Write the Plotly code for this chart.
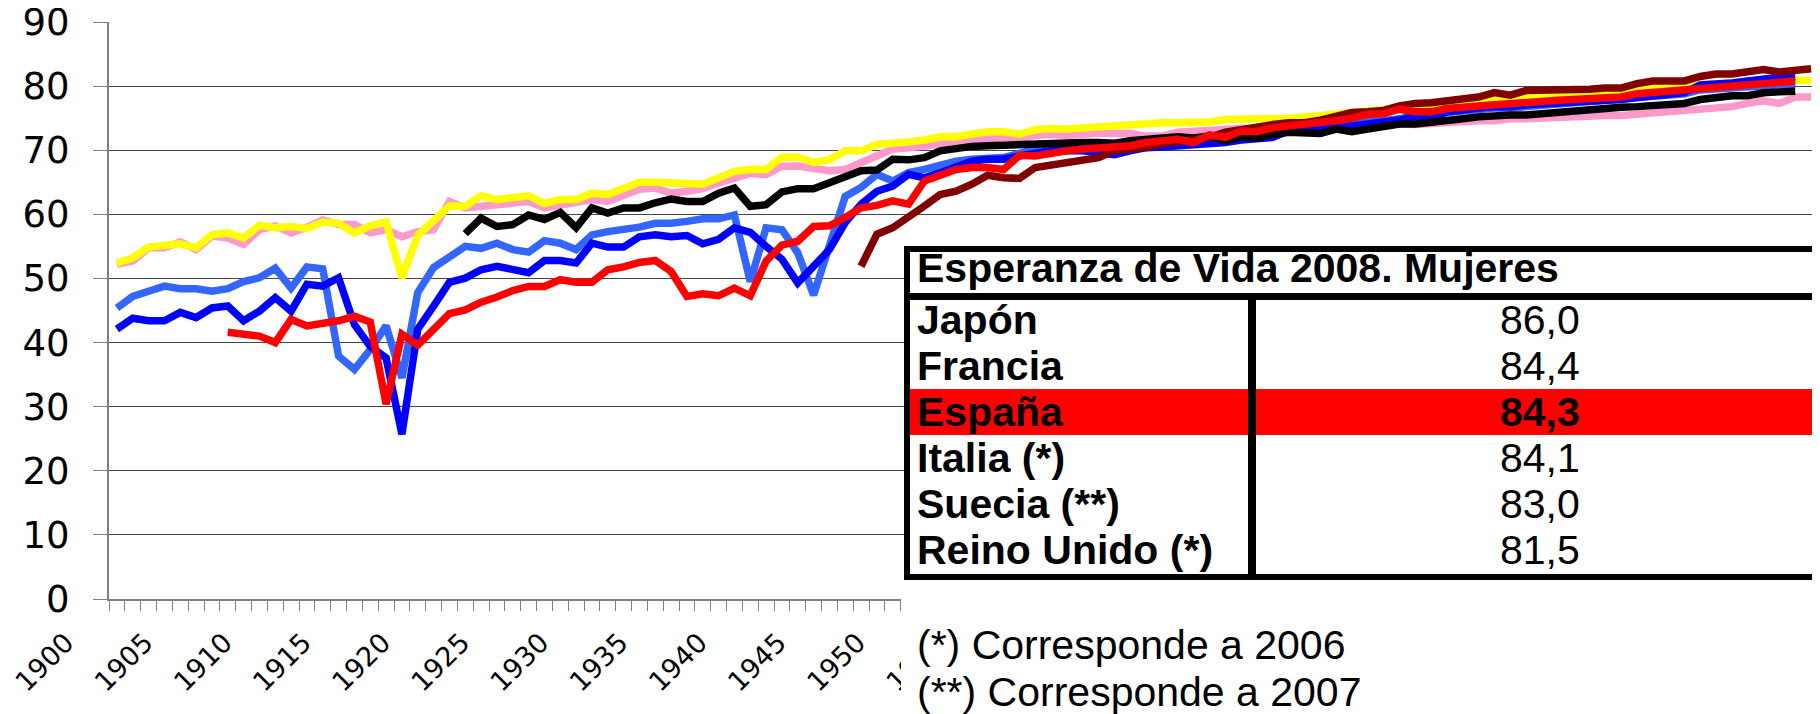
import plotly.graph_objects as go

# ---------------- data ----------------
years = list(range(1900, 2008))
tick_years = list(range(1900, 1960, 5))

# yellow series (1900-2007)
suecia_start = 1900
suecia = [52.4, 53.2, 54.9, 55.2, 55.4, 54.8, 56.8, 57.1, 56.3, 58.3, 57.9, 58.1, 57.8, 58.8, 58.6, 57.1, 58.2, 58.8, 50.1, 56.7, 58.9, 61.3,
          61.25, 62.9, 62.3, 62.6, 62.9, 61.7, 62.3, 62.3, 63.3, 63.1, 64.0, 65.0, 65.0, 65.0, 64.8, 64.7, 65.7, 66.7, 67.0, 67.0, 68.9,
          68.9, 68.1, 68.5, 69.9, 69.9, 70.9, 71.0, 71.3, 71.6, 72.1, 72.1, 72.5, 72.9, 72.9, 72.5, 73.2, 73.4, 73.3, 73.5, 73.6, 73.8,
          73.9, 74.2, 74.3, 74.3, 74.3, 74.4, 74.8, 74.8, 74.8, 74.9, 75.0, 75.2, 75.3, 75.6, 75.9, 76.1, 76.2, 76.6, 77.2, 76.9, 77.2,
          77.4, 77.7, 77.7, 77.9, 78.2, 78.2, 78.5, 78.6, 78.8, 79.0, 79.1, 79.6, 79.6, 79.7, 79.8, 80.2, 80.4, 80.5, 80.8, 80.9, 81.0, 80.9, 80.9]

# pink series (1900-2007)
noruega_start = 1900
noruega = [52.2, 52.7, 54.8, 54.8, 55.7, 54.5, 56.6, 56.3, 55.3, 57.6, 58.2, 57.1, 58.0, 59.1, 58.4, 58.4, 57.1, 57.6, 56.5, 57.3, 57.6, 62.0,
           61.0, 61.25, 61.4, 61.8, 62.0, 61.0, 61.5, 61.8, 62.3, 62.0, 63.1, 63.9, 64.1, 63.3, 63.6, 64.0, 64.9, 65.8, 66.4, 66.2, 67.5,
           67.55, 67.3, 66.8, 67.0, 68.1, 69.4, 70.2, 70.4, 70.7, 70.9, 71.2, 71.5, 71.8, 72.0, 71.7, 72.3, 72.5, 72.3, 72.5, 72.7, 72.6,
           72.6, 72.2, 72.2, 72.8, 73.0, 73.0, 73.4, 73.4, 73.3, 73.5, 73.6, 73.6, 73.7, 73.7, 73.8, 73.8, 74.0, 74.1, 74.0, 74.2, 74.4,
           74.5, 74.6, 74.6, 74.9, 74.9, 75.0, 75.2, 75.4, 75.4, 75.4, 75.4, 75.6, 75.9, 76.2, 76.3, 76.6, 76.8, 76.8, 77.3, 77.7, 77.3, 78.3, 78.3]

# light blue series (1900-2006)
francia_start = 1900
francia = [45.4, 47.2, 48.0, 48.8, 48.4, 48.4, 48.0, 48.4, 49.5, 50.1, 51.6, 48.5, 51.8, 51.5, 37.9, 35.8, 38.9, 42.6, 34.5, 47.8, 51.7, 53.2,
           55.0, 54.7, 55.5, 54.5, 54.1, 55.9, 55.5, 54.5, 56.8, 57.3, 57.6, 58.0, 58.6, 58.6, 58.9, 59.3, 59.3, 59.9, 49.5, 57.9, 57.6,
           54.0, 47.4, 54.8, 62.8, 64.2, 66.25, 65.2, 66.5, 67.0, 67.7, 68.3, 68.6, 68.7, 68.85, 69.5, 70.2, 70.3, 70.4, 70.4, 70.2, 70.3,
           70.3, 70.6, 70.7, 70.9, 71.0, 71.1, 71.4, 71.8, 71.9, 72.2, 73.1, 73.3, 73.5, 73.8, 74.2, 74.6, 74.6, 74.9, 75.5, 75.3, 75.9,
           76.2, 76.4, 76.6, 76.6, 76.9, 77.0, 77.2, 77.4, 77.5, 77.6, 77.8, 78.0, 78.3, 78.5, 78.8, 79.4, 79.6, 79.8, 80.0, 80.1, 80.2, 80.3]

# dark blue series (1900-2006)
italia_start = 1900
italia = [42.1, 43.8, 43.4, 43.4, 44.7, 43.9, 45.4, 45.7, 43.4, 44.9, 47.0, 44.9, 49.1, 48.8, 50.1, 42.8, 39.4, 37.6, 25.7, 42.1, 45.7, 49.4,
          50.05, 51.35, 51.9, 51.5, 50.9, 52.8, 52.8, 52.4, 55.5, 54.9, 54.9, 56.5, 56.8, 56.5, 56.7, 55.4, 56.1, 57.9, 57.2, 55.0, 53.0,
          49.3, 51.9, 54.5, 58.7, 61.6, 63.6, 64.4, 66.25, 65.7, 66.5, 67.3, 68.3, 68.6, 68.6, 69.1, 69.6, 69.9, 69.9, 69.9, 69.6, 69.3,
          69.9, 70.4, 70.5, 70.7, 70.85, 70.85, 71.2, 71.6, 71.7, 72.0, 73.0, 73.1, 73.3, 73.5, 73.8, 74.1, 74.3, 74.7, 75.3, 74.8, 76.0,
          76.4, 76.6, 76.8, 76.8, 77.1, 77.2, 77.4, 77.6, 77.7, 77.8, 77.9, 78.2, 78.5, 78.7, 79.0, 80.2, 80.3, 80.5, 80.8, 81.2, 81.4, 81.5]

# black series (1922-2006)
reino_unido_start = 1922
reino_unido = [57.0, 59.4, 58.1, 58.4, 59.9, 59.2, 60.3, 57.9, 61.0, 60.2, 61.0, 61.0, 61.8, 62.4, 62.0, 62.0, 63.3, 64.1, 61.25, 61.5, 63.5,
               64.0, 64.0, 64.95, 65.9, 66.8, 66.9, 68.6, 68.5, 68.85, 69.9, 70.3, 70.6, 70.7, 70.8, 70.9, 71.1, 71.2, 71.2, 71.2, 71.2, 71.1,
               71.5, 71.7, 71.7, 72.1, 71.9, 72.2, 71.5, 72.1, 71.9, 72.5, 72.8, 72.6, 72.6, 73.3, 72.9, 73.3, 73.6, 74.1, 74.1, 74.3, 74.7,
               74.9, 75.2, 75.4, 75.5, 75.5, 75.7, 76.05, 76.3, 76.4, 76.6, 76.7, 76.8, 76.9, 77.2, 77.3, 77.9, 78.3, 78.5, 78.5, 78.97, 79.1, 79.2]

# dark red series (1947-2007)
japon_start = 1947
japon = [51.9, 56.9, 57.9, 59.5, 61.3, 63.1, 63.6, 64.7, 66.1, 65.7, 65.6, 67.3, 67.7, 68.2, 68.6, 68.85, 69.9,
         70.2, 70.4, 71.0, 71.4, 71.7, 72.0, 72.8, 73.3, 73.5, 74.0, 74.3, 74.3, 74.7, 75.3, 75.9, 76.0, 76.2, 76.9, 77.3, 77.4, 77.7,
         77.9, 78.3, 79.0, 78.6, 79.3, 79.3, 79.5, 79.5, 79.5, 79.7, 79.7, 80.4, 80.8, 80.8, 80.8, 81.5, 81.9, 81.9, 82.2, 82.6, 82.2, 82.4, 82.7]

# red series (1907-2006)
espana_start = 1907
espana = [41.6, 41.3, 41.0, 40.0, 43.6, 42.6, 43.0, 43.4, 44.1, 43.2, 30.4, 41.3, 39.6, 42.1, 44.5,
          45.1, 46.3, 47.1, 48.1, 48.75, 48.75, 49.8, 49.4, 49.4, 51.35, 51.8, 52.5, 52.8, 51.1, 47.2, 47.6, 47.3, 48.5, 47.3, 52.7, 55.2,
          55.8, 58.1, 58.2, 59.5, 61.0, 61.4, 62.1, 61.6, 65.2, 66.1, 67.0, 67.3, 67.3, 67.0, 69.2, 69.1, 69.6, 69.9, 70.2, 70.4, 70.7,
          70.7, 71.2, 71.5, 71.7, 71.2, 72.4, 72.0, 73.0, 72.9, 73.5, 73.8, 74.0, 74.3, 74.6, 75.0, 75.6, 75.7, 76.4, 76.0, 76.0, 76.5,
          76.8, 76.9, 77.1, 77.2, 77.4, 77.6, 77.8, 77.9, 78.2, 78.2, 78.3, 78.8, 79.0, 79.3, 79.6, 79.7, 79.8, 80.0, 80.2, 80.4, 80.8, 80.8]

# table
tabla_titulo = "Esperanza de Vida 2008. Mujeres"
tabla_paises = ["Japón", "Francia", "España", "Italia (*)", "Suecia (**)", "Reino Unido (*)"]
tabla_valores = [86.0, 84.4, 84.3, 84.1, 83.0, 81.5]
notas = ["(*) Corresponde a 2006", "(**) Corresponde a 2007"]

# ---------------- figure ----------------
OFF = 8                       # default page margin in front of the figure div
W, H = 1820 - OFF, 714 - OFF
ML, MR, MT, MB = 109 - OFF, 1, 22 - OFF, 115
PW, PH = W - ML - MR, H - MT - MB


def X(px):
    """page pixel x -> paper coordinate"""
    return (px - OFF - ML) / PW


def Y(py):
    """page pixel y -> paper coordinate"""
    return (H - MB - (py - OFF)) / PH


series = [
    ("Noruega", noruega_start, noruega, "#FF99CC"),
    ("Suecia", suecia_start, suecia, "#FFFF00"),
    ("Francia", francia_start, francia, "#3366FF"),
    ("Italia", italia_start, italia, "#0000FF"),
    ("Reino Unido", reino_unido_start, reino_unido, "#000000"),
    ("Japón", japon_start, japon, "#800000"),
    ("España", espana_start, espana, "#FF0000"),
]

fig = go.Figure()
for name, start, vals, color in series:
    xs = [start - 1900 + i for i in range(len(vals))]
    fig.add_trace(go.Scatter(x=xs, y=vals, mode="lines", name=name,
                             line=dict(color=color, width=7.5),
                             hoverinfo="skip"))

FONT = "DejaVu Sans"
TFONT = "Liberation Sans"

fig.update_layout(
    width=W, height=H,
    margin=dict(l=ML, r=MR, t=MT, b=MB, pad=0, autoexpand=False),
    paper_bgcolor="white", plot_bgcolor="white",
    showlegend=False,
    font=dict(family=FONT, color="black"),
    xaxis=dict(
        automargin=False,
        range=[-0.5, len(years) - 0.5],
        tickmode="array",
        tickvals=[y - 1900 for y in tick_years],
        ticktext=[str(y) for y in tick_years],
        ticks="",
        tickangle=-45,
        tickfont=dict(family=FONT, size=27, color="black"),
        ticklabelshift=-51,
        ticklabelstandoff=15,
        ticklabeloverflow="allow",
        showgrid=False,
        zeroline=False,
        showline=True, linecolor="#808080", linewidth=2,
        minor=dict(tickmode="array", tickvals=[k - 0.5 for k in range(len(years) + 1)],
                   ticks="outside", ticklen=10, tickcolor="#808080", tickwidth=1, showgrid=False),
    ),
    yaxis=dict(
        automargin=False,
        range=[0, 90],
        tickmode="linear", tick0=0, dtick=10,
        ticks="outside", ticklen=14, tickcolor="#808080", tickwidth=1,
        tickfont=dict(family=FONT, size=37, color="black"),
        ticklabelstandoff=16,
        ticklabeloverflow="allow",
        showgrid=True, gridcolor="#454545", gridwidth=1,
        zeroline=False,
        showline=True, linecolor="#808080", linewidth=2, mirror=True,
    ),
)

shapes = []
# table background and red highlight band
shapes.append(dict(type="rect", xref="paper", yref="paper", layer="above",
                   x0=X(904), x1=X(1830), y0=Y(580), y1=Y(246),
                   fillcolor="white", line=dict(width=0)))
shapes.append(dict(type="rect", xref="paper", yref="paper", layer="above",
                   x0=X(910), x1=X(1830), y0=Y(435), y1=Y(389),
                   fillcolor="#FF0000", line=dict(width=0)))
# footnote white box (covers axis beyond the table)
shapes.append(dict(type="rect", xref="paper", yref="paper", layer="above",
                   x0=X(901), x1=X(1830), y0=Y(720), y1=Y(580),
                   fillcolor="white", line=dict(width=0)))


def hline(py, x0, x1, w):
    shapes.append(dict(type="line", xref="paper", yref="paper", layer="above",
                       x0=X(x0), x1=X(x1), y0=Y(py), y1=Y(py),
                       line=dict(color="black", width=w)))


def vline(px, y0, y1, w):
    shapes.append(dict(type="line", xref="paper", yref="paper", layer="above",
                       x0=X(px), x1=X(px), y0=Y(y0), y1=Y(y1),
                       line=dict(color="black", width=w)))


hline(249, 904, 1830, 6)
hline(296.5, 904, 1830, 7)
hline(577, 904, 1830, 6)
vline(907, 246, 580, 6)
vline(1252, 296, 578, 8)
fig.update_layout(shapes=shapes)

ann = []
ann.append(dict(xref="paper", yref="paper", x=X(915), y=Y(268), xanchor="left", yanchor="middle",
                text="<b>" + tabla_titulo + "</b>", showarrow=False,
                font=dict(family=TFONT, size=41, color="black")))
for i, (pais, val) in enumerate(zip(tabla_paises, tabla_valores)):
    cy = 320 + 46 * i
    vtxt = f"{val:.1f}".replace(".", ",")
    bold_val = (pais == "España")
    ann.append(dict(xref="paper", yref="paper", x=X(915), y=Y(cy), xanchor="left", yanchor="middle",
                    text="<b>" + pais + "</b>", showarrow=False,
                    font=dict(family=TFONT, size=41, color="black")))
    ann.append(dict(xref="paper", yref="paper", x=X(1540), y=Y(cy), xanchor="center", yanchor="middle",
                    text=("<b>" + vtxt + "</b>") if bold_val else vtxt, showarrow=False,
                    font=dict(family=TFONT, size=41, color="black")))
for j, nota in enumerate(notas):
    ann.append(dict(xref="paper", yref="paper", x=X(915), y=Y(645 + 47 * j), xanchor="left", yanchor="middle",
                    text=nota, showarrow=False,
                    font=dict(family=TFONT, size=41, color="black")))
fig.update_layout(annotations=ann)

fig.write_html("out.html")
